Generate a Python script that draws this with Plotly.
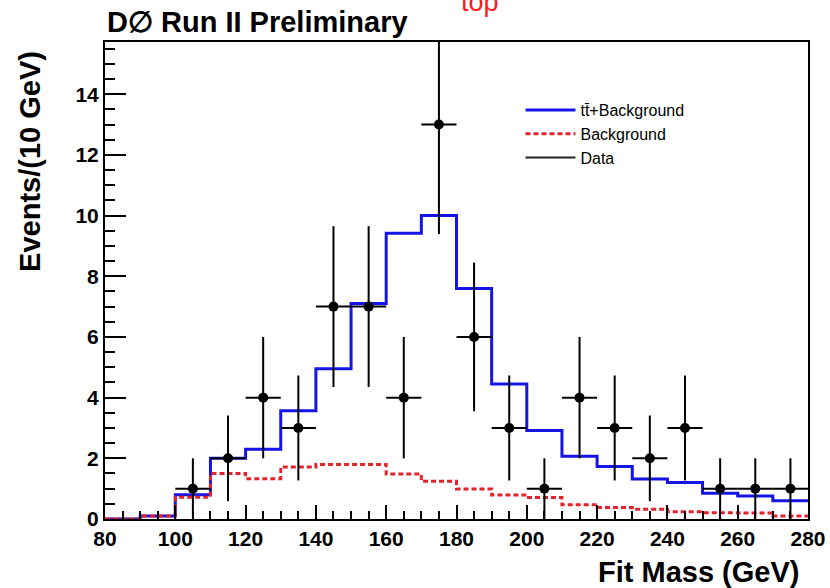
import plotly.graph_objects as go

# ---- data ----
bin_edges = [80, 90, 100, 110, 120, 130, 140, 150, 160, 170, 180,
             190, 200, 210, 220, 230, 240, 250, 260, 270, 280]
ttbar_plus_bkg = [0.0, 0.1, 0.8, 2.0, 2.3, 3.57, 4.95, 7.1, 9.42, 10.0,
                  7.6, 4.45, 2.92, 2.07, 1.73, 1.32, 1.2, 0.85, 0.76, 0.6]
background = [0.0, 0.1, 0.72, 1.5, 1.33, 1.71, 1.8, 1.8, 1.48, 1.24,
              0.99, 0.79, 0.71, 0.47, 0.38, 0.32, 0.24, 0.21, 0.2, 0.1]
data_x = [105, 115, 125, 135, 145, 155, 165, 175, 185, 195,
          205, 215, 225, 235, 245, 255, 265, 275]
data_y = [1, 2, 4, 3, 7, 7, 4, 13, 6, 3, 1, 4, 3, 2, 3, 1, 1, 1]
data_err = [1.0, 1.41, 2.0, 1.73, 2.65, 2.65, 2.0, 3.61, 2.45, 1.73,
            1.0, 2.0, 1.73, 1.41, 1.73, 1.0, 1.0, 1.0]
bin_half_width = 5

x_ticks = [80, 100, 120, 140, 160, 180, 200, 220, 240, 260, 280]
y_ticks = [0, 2, 4, 6, 8, 10, 12, 14]

FONT = "Liberation Sans, Arial, sans-serif"
BLUE = "#1414e6"
RED = "#e3232b"

def step(vals):
    return vals + [vals[-1]]

fig = go.Figure()

fig.add_trace(go.Scatter(
    x=bin_edges, y=step(ttbar_plus_bkg), mode="lines", line_shape="hv",
    line=dict(color=BLUE, width=3), name="tt\u0304+Background"))

fig.add_trace(go.Scatter(
    x=bin_edges, y=step(background), mode="lines", line_shape="hv",
    line=dict(color=RED, width=3, dash="5px,3px"), name="Background"))

fig.add_trace(go.Scatter(
    x=data_x, y=data_y, mode="markers", showlegend=False,
    marker=dict(color="black", size=10),
    error_y=dict(type="data", array=data_err, color="black", thickness=2, width=0),
    error_x=dict(type="constant", value=bin_half_width, color="black", thickness=2, width=0),
    name="Data"))

fig.add_trace(go.Scatter(
    x=[None], y=[None], mode="lines", line=dict(color="#222222", width=2),
    name="Data"))

fig.update_layout(
    width=830, height=588,
    margin=dict(l=105, r=22, t=42, b=69, autoexpand=False),
    paper_bgcolor="white", plot_bgcolor="white",
    font=dict(family=FONT, color="black"),
    showlegend=True,
    legend=dict(x=0.591, y=0.893, xanchor="left", yanchor="top",
                bgcolor="rgba(0,0,0,0)", font=dict(family=FONT, size=16),
                tracegroupgap=0, itemwidth=50),
    xaxis=dict(range=[80, 280], showgrid=False, zeroline=False, automargin=False,
               showline=True, linecolor="black", linewidth=2, mirror=True,
               ticks="inside", ticklen=14, tickwidth=2, tickcolor="black",
               tickvals=x_ticks, ticktext=[str(v) for v in x_ticks],
               tickfont=dict(family=FONT, size=21, weight="bold"),
               minor=dict(dtick=5, ticklen=8, tickwidth=2, tickcolor="black", ticks="inside")),
    yaxis=dict(range=[0, 15.72], showgrid=False, zeroline=False, automargin=False,
               showline=True, linecolor="black", linewidth=2, mirror=True,
               ticks="inside", ticklen=21, tickwidth=2, tickcolor="black",
               tickvals=y_ticks, ticktext=[str(v) for v in y_ticks],
               tickfont=dict(family=FONT, size=21, weight="bold"),
               minor=dict(dtick=0.5, ticklen=10, tickwidth=2, tickcolor="black", ticks="inside")),
)

fig.add_annotation(text="D\u2205 Run II Preliminary", xref="paper", yref="paper",
                   x=0.0, y=1.042, xanchor="left", yanchor="middle", showarrow=False,
                   font=dict(family=FONT, size=29, weight="bold"))
fig.add_annotation(text="Events/(10 GeV)", xref="paper", yref="paper",
                   x=-0.1068, y=(519 - 161) / 477, xanchor="center", yanchor="middle",
                   textangle=-90, showarrow=False,
                   font=dict(family=FONT, size=29, weight="bold"))
fig.add_annotation(text="Fit Mass (GeV)", xref="paper", yref="paper",
                   x=0.990, y=-0.111, xanchor="right", yanchor="middle", showarrow=False,
                   font=dict(family=FONT, size=29, weight="bold"))
fig.add_annotation(text="top", xref="paper", yref="paper",
                   x=0.5328, y=(519 - 2) / 477, xanchor="center", yanchor="middle",
                   showarrow=False, font=dict(family=FONT, size=27, color="#ff1a1a"))

fig.write_html("out.html")
